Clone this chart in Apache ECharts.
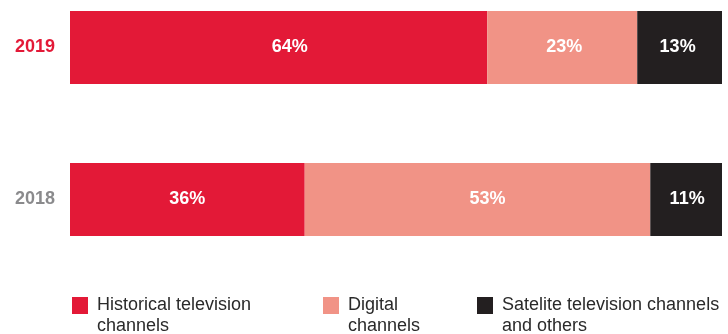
<!DOCTYPE html>
<html>
<head>
<meta charset="utf-8">
<script src="https://cdn.jsdelivr.net/npm/echarts@6/dist/echarts.min.js"></script>
<style>
html,body{margin:0;padding:0;background:#fff;}
#c{width:728px;height:334px;}
</style>
</head>
<body>
<div id="c"></div>
<script>
var years = ['2019', '2018'];
var seriesNames = ['Historical television channels', 'Digital channels', 'Satelite television channels and others'];
var historical = [64, 36];
var digital = [23, 53];
var satellite = [13, 11];

var colors = ['#E31937', '#F19386', '#231F20'];
var legendLines = [['Historical television', 'channels'], ['Digital', 'channels'], ['Satelite television channels', 'and others']];
var legendLeft = [72, 323, 477];
var labelOffsets = [[[11, 0], [0, 0]], [[2, 0], [10, 0]], [[-2, 0], [1, 0]]];
var values = [historical, digital, satellite];

var chart = echarts.init(document.getElementById('c'), null, {renderer: 'canvas'});
var font = '"Liberation Sans", Arial, Helvetica, sans-serif';

var series = seriesNames.map(function (name, si) {
  return {
    name: name,
    type: 'bar',
    stack: 'total',
    barWidth: 73,
    itemStyle: {color: colors[si]},
    label: {
      show: true,
      position: 'inside',
      formatter: '{c}%',
      color: '#fff',
      fontFamily: font,
      fontWeight: 'bold',
      fontSize: 18
    },
    data: values[si].map(function (v, i) {
      return {value: v, label: {offset: labelOffsets[si][i]}};
    })
  };
});

var legends = seriesNames.map(function (name, si) {
  return {
    data: [name],
    left: legendLeft[si],
    top: 274,
    padding: 0,
    itemWidth: 16,
    itemHeight: 17,
    icon: 'rect',
    selectedMode: false,
    formatter: function () { return ' \n' + legendLines[si].join('\n'); },
    textStyle: {
      fontFamily: font,
      fontSize: 18,
      lineHeight: 21,
      color: '#2a2a2a',
      padding: [0, 0, 0, 4]
    }
  };
});

chart.setOption({
  animation: false,
  grid: {left: 70, right: 6, top: 47.5, bottom: 134.5, containLabel: false},
  xAxis: {type: 'value', min: 0, max: 100, show: false},
  yAxis: {
    type: 'category',
    data: years,
    inverse: true,
    boundaryGap: false,
    axisLine: {show: false},
    axisTick: {show: false},
    splitLine: {show: false},
    axisLabel: {
      margin: 15,
      fontFamily: font,
      fontWeight: 'bold',
      fontSize: 18,
      formatter: function (v, i) { return i === 0 ? '{a|' + v + '}' : '{b|' + v + '}'; },
      rich: {
        a: {color: '#E31937', fontFamily: font, fontWeight: 'bold', fontSize: 18},
        b: {color: '#8A8A8C', fontFamily: font, fontWeight: 'bold', fontSize: 18}
      }
    }
  },
  legend: legends,
  series: series
});
</script>
</body>
</html>
